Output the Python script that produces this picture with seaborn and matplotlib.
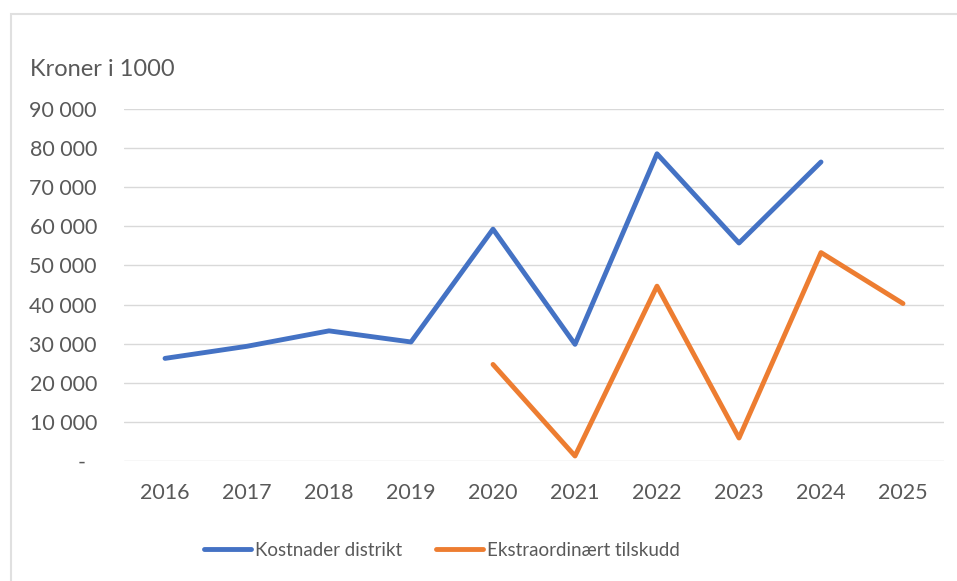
import pandas as pd
import matplotlib.pyplot as plt
import seaborn as sns
from matplotlib.patches import Rectangle

# data
years = [2016, 2017, 2018, 2019, 2020, 2021, 2022, 2023, 2024, 2025]
kostnader = [26200, 29300, 33250, 30400, 59300, 29800, 78600, 55750, 76500, None]
ekstra = [None, None, None, None, 24650, 1200, 44700, 5800, 53300, 40250]
y_ticks = [0, 10000, 20000, 30000, 40000, 50000, 60000, 70000, 80000, 90000]
y_labels = ["-  ", "10 000", "20 000", "30 000", "40 000", "50 000",
            "60 000", "70 000", "80 000", "90 000"]
series_names = ["Kostnader distrikt", "Ekstraordinært tilskudd"]

df = pd.DataFrame({"year": years, series_names[0]: kostnader, series_names[1]: ekstra})
df_long = df.melt(id_vars="year", var_name="serie", value_name="value").dropna()

sns.set_style("white")
plt.rcParams['font.family'] = ['Lato', 'DejaVu Sans']
text_color = "#595959"

fig = plt.figure(figsize=(9.57, 5.81), dpi=100)
ax = fig.add_axes([0.1296, 0.2071, 0.8568, 0.6048])

# chart border like excel (only left and top edges are inside the image)
top = 1 - 13.5 / 581
fig.patches.append(Rectangle((10.5 / 957, -0.5), 1.2, top + 0.5, transform=fig.transFigure,
                             fill=False, edgecolor="#E0E0E0", linewidth=1.5))

sns.lineplot(data=df_long, x="year", y="value", hue="serie", hue_order=series_names,
             palette=["#4472C4", "#ED7D31"], linewidth=3.5, ax=ax,
             solid_capstyle="round", solid_joinstyle="round")

ax.set_xlim(2015.5, 2025.5)
ax.set_ylim(0, 90000)
ax.set_xticks(years)
ax.set_xticklabels([str(y) for y in years])
ax.set_yticks(y_ticks)
ax.set_yticklabels(y_labels)
ax.tick_params(axis="both", length=0, labelsize=15.5, colors=text_color)
ax.tick_params(axis="x", pad=16)
ax.tick_params(axis="y", pad=19.5)
ax.grid(axis="y", color="#D9D9D9", linewidth=1)
ax.set_axisbelow(True)
for s in ax.spines.values():
    s.set_visible(False)
ax.set_xlabel("")
ax.set_ylabel("")

fig.text(30 / 957, 1 - 70 / 581, "Kroner i 1000", fontsize=17, color=text_color, va="center")

leg = fig.legend(*ax.get_legend_handles_labels(), loc="center",
                 bbox_to_anchor=(442 / 957, 1 - 550 / 581), ncol=2, frameon=False,
                 fontsize=13.5, handlelength=2.5, handletextpad=0.2, columnspacing=1.85)
ax.get_legend().remove()
for t in leg.get_texts():
    t.set_color(text_color)
for h in leg.get_lines():
    h.set_linewidth(3.5)
    h.set_solid_capstyle("round")

fig.savefig("out.png", dpi=100)
